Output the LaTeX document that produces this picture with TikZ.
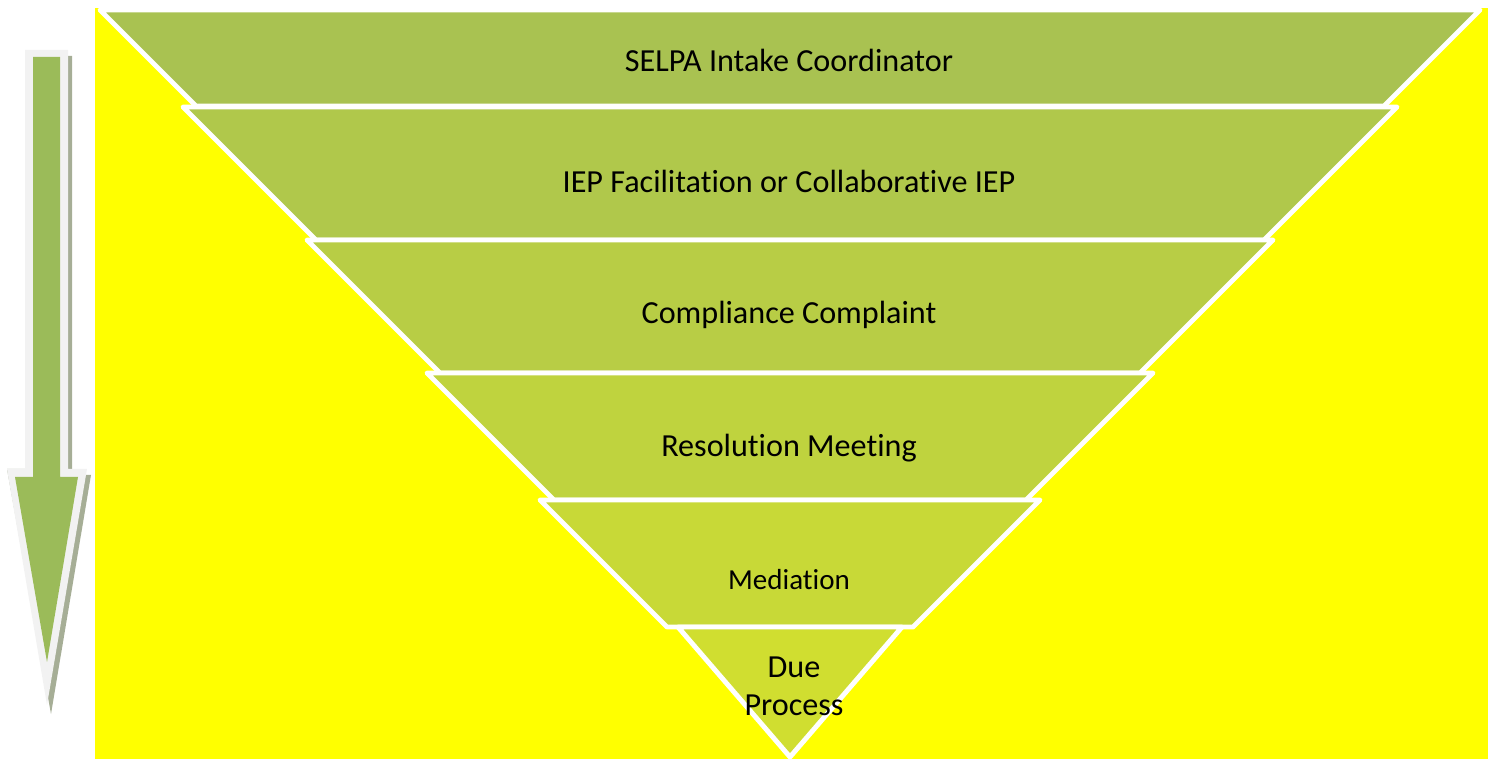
\documentclass[tikz,border=0pt]{standalone}
\usepackage{fontspec}
\setmainfont{Carlito}[Ligatures=NoCommon]
\usepackage{tikz}
\definecolor{bg}{HTML}{FFFF00}
\definecolor{layA}{HTML}{A9C251}
\definecolor{layB}{HTML}{B0C84B}
\definecolor{layC}{HTML}{B8CD45}
\definecolor{layD}{HTML}{BFD33E}
\definecolor{layE}{HTML}{C8D937}
\definecolor{layF}{HTML}{D0DE30}
\definecolor{arrowfill}{HTML}{9BBB59}
\definecolor{arrowrim}{HTML}{F2F2F2}
\definecolor{arrowshade}{HTML}{A6AE96}

\begin{document}
\begin{tikzpicture}[x=0.02cm,y=-0.02cm,
    layer/.style={draw=white,line width=2.8pt,line join=round,fill=#1},
    label/.style={font=\fontsize{18.3}{21.5}\selectfont,text=black,align=center}]
        \useasboundingbox (0,0) rectangle (1494,759);
        \fill[bg] (95,8) rectangle (1488,759);

        % funnel
        \draw[layer=layA] (100,10) -- (1480,10) -- (1384,106) -- (196,106) -- cycle;
        \draw[layer=layB] (183,107) -- (1397,107) -- (1264,240) -- (316,240) -- cycle;
        \draw[layer=layC] (307,240) -- (1273,240) -- (1140,373) -- (440,373) -- cycle;
        \draw[layer=layD] (427,373) -- (1153,373) -- (1026,500) -- (554,500) -- cycle;
        \draw[layer=layE] (540,500) -- (1040,500) -- (913,627) -- (667,627) -- cycle;
        \draw[layer=layF] (678,627) -- (902,627) -- (790,757) -- cycle;

        \path
        (789,60) node[label](selpa) {SELPA Intake Coordinator}
        (789,181) node[label](iep) {IEP Facilitation or Collaborative IEP}
        (789,315) node[label](compl) {Compliance Complaint}
        (789,448) node[label](resol) {Resolution Meeting}
        (789,580) node[label,font=\fontsize{16.5}{19}\selectfont](medi) {Mediation}
        (794,686) node[label](due) {Due\\Process}
        ;

        % arrow
        \fill[arrowshade] (29,56) -- (72,56) -- (72,475) -- (91,475) -- (51,714) -- (7,469) -- (25,469) -- cycle;
        \fill[arrowrim] (25,50) -- (68,50) -- (68,469) -- (87,469) -- (47,705) -- (7,469) -- (25,469) -- cycle;
        \fill[arrowfill] (33,57) -- (60,57) -- (60,477) -- (78,477) -- (47,662) -- (15,477) -- (33,477) -- cycle;
      \end{tikzpicture}
\end{document}
